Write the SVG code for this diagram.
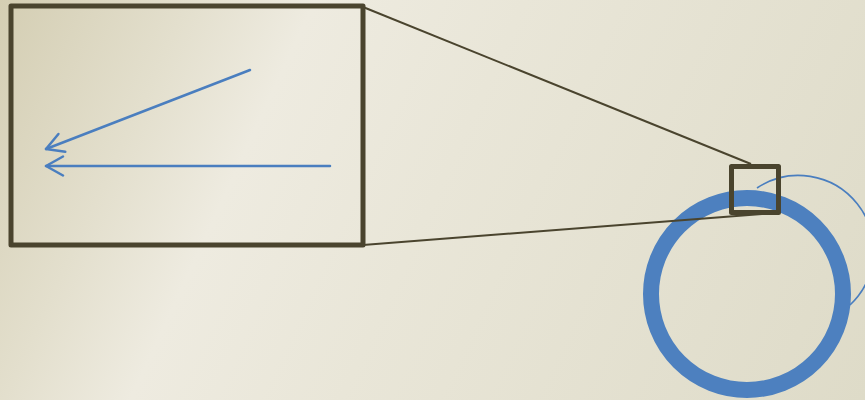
<svg xmlns="http://www.w3.org/2000/svg" width="865" height="400" viewBox="0 0 865 400">
  <defs>
    <linearGradient id="bg" x1="0" y1="0" x2="865" y2="400" gradientUnits="userSpaceOnUse">
      <stop offset="0" stop-color="#d4ceb3"/>
      <stop offset="0.18" stop-color="#e3dfcd"/>
      <stop offset="0.3" stop-color="#eeebe0"/>
      <stop offset="0.5" stop-color="#e9e6d8"/>
      <stop offset="1" stop-color="#dedbc8"/>
    </linearGradient>
    <marker id="open" viewBox="0 0 22 22" refX="19" refY="11" markerWidth="22" markerHeight="22" markerUnits="userSpaceOnUse" orient="auto">
      <path d="M2,1.5 L19,11 L2,20.5" fill="none" stroke="#4a7ebf" stroke-width="2.5" stroke-linecap="round" stroke-linejoin="round"/>
    </marker>
    <style>
      .frame { fill: none; stroke: #4a442e; stroke-width: 5; stroke-linejoin: round; }
      .link { stroke: #4a442e; stroke-width: 2; fill: none; }
      .arrow { stroke: #4a7ebf; stroke-width: 2.5; fill: none; stroke-linecap: round; }
    </style>
  </defs>
  <rect width="865" height="400" fill="url(#bg)"/>

  <g id="ring">
    <circle cx="747" cy="294" r="96" fill="none" stroke="#4d80bf" stroke-width="16"/>
  </g>
  <g id="thin-arc">
    <path d="M757,188 A75,75 0 0 1 850,305" fill="none" stroke="#4a7ebf" stroke-width="1.6"/>
  </g>

  <g id="connectors">
    <line class="link" x1="363" y1="7" x2="751" y2="164"/>
    <line class="link" x1="363" y1="245" x2="762" y2="214"/>
  </g>

  <g id="zoom-box">
    <rect class="frame" x="11" y="6" width="352" height="239"/>
    <line class="arrow" x1="250" y1="70" x2="46" y2="149" marker-end="url(#open)"/>
    <line class="arrow" x1="330" y1="166" x2="46" y2="166" marker-end="url(#open)"/>
  </g>

  <g id="small-box">
    <rect class="frame" x="731.5" y="166.5" width="47" height="46"/>
  </g>
</svg>
